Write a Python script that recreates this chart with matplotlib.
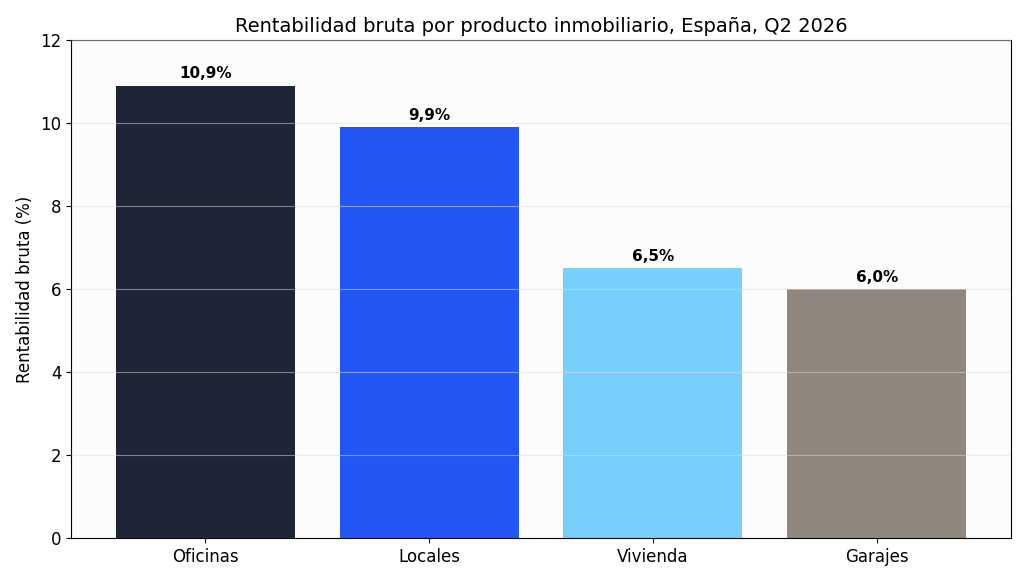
import matplotlib
matplotlib.use("Agg")
import matplotlib.pyplot as plt

categories = ["Oficinas", "Locales", "Vivienda", "Garajes"]
values = [10.9, 9.9, 6.5, 6.0]
colors = ["#1f2537", "#2357f5", "#78cffe", "#8f867d"]

fig = plt.figure(figsize=(10.24, 5.8), dpi=100)
ax = fig.add_axes([71/1024, 1-538/580, (1011-71)/1024, (538-40)/580])
ax.set_facecolor("#fcfcfd")
bars = ax.bar(categories, values, color=colors, width=0.8, zorder=2)
ax.grid(axis="y", color="#dddddd", alpha=0.5, linewidth=0.8, zorder=3)
ax.set_axisbelow(False)
for b, v in zip(bars, values):
    ax.text(b.get_x() + b.get_width()/2, v + 0.1, f"{v:.1f}%".replace(".", ","),
            ha="center", va="bottom", fontsize=11, fontweight="bold")
ax.set_ylim(0, 12)
ax.set_xlim(-0.6, 3.6)
ax.set_ylabel("Rentabilidad bruta (%)", fontsize=12)
ax.set_title("Rentabilidad bruta por producto inmobiliario, España, Q2 2026", fontsize=14)
ax.tick_params(labelsize=12)
fig.savefig("out.png", dpi=100)
